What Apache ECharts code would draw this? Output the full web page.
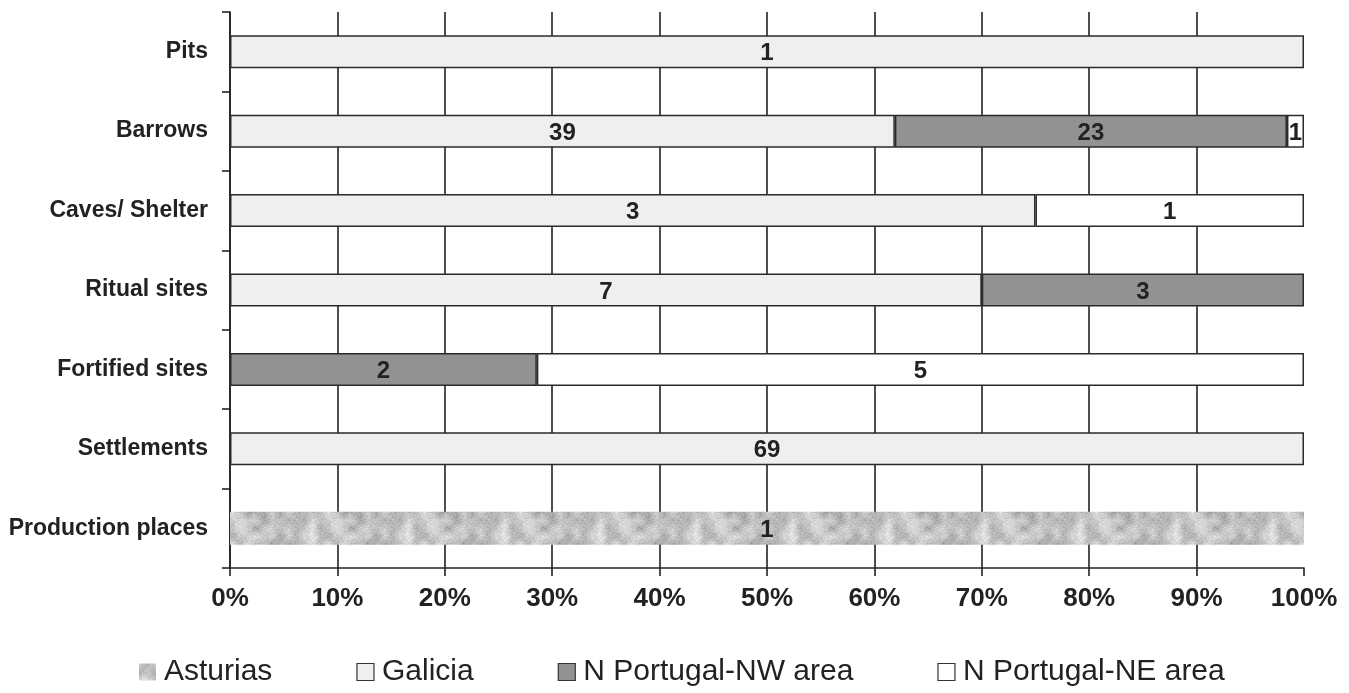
<!DOCTYPE html>
<html>
<head>
<meta charset="utf-8">
<script src="https://cdn.jsdelivr.net/npm/echarts@6/dist/echarts.min.js"></script>
<style>
html,body{margin:0;padding:0;background:#fff;}
#chart{width:1349px;height:693px;}
</style>
</head>
<body>
<div id="chart"></div>
<script>
// ---- data ----
var categories = ['Pits', 'Barrows', 'Caves/ Shelter', 'Ritual sites', 'Fortified sites', 'Settlements', 'Production places'];
var seriesNames = ['Asturias', 'Galicia', 'N Portugal-NW area', 'N Portugal-NE area'];
var asturias = [0, 0, 0, 0, 0, 0, 1];
var galicia  = [1, 39, 3, 7, 0, 69, 0];
var nwArea   = [0, 23, 0, 3, 2, 0, 0];
var neArea   = [0, 1, 1, 0, 5, 0, 0];
var xTickLabels = ['0%', '10%', '20%', '30%', '40%', '50%', '60%', '70%', '80%', '90%', '100%'];

// ---- texture for Asturias (deterministic noise) ----
function makeTexture() {
  var size = 96;
  var c = document.createElement('canvas');
  c.width = size; c.height = size;
  var ctx = c.getContext('2d');
  var seed = 12345;
  function rnd() { seed = (seed * 1103515245 + 12345) & 0x7fffffff; return seed / 0x7fffffff; }
  var g = 12, grid = [];
  for (var i = 0; i <= g; i++) { grid[i] = []; for (var j = 0; j <= g; j++) grid[i][j] = rnd(); }
  for (var i = 0; i < g; i++) grid[i][g] = grid[i][0];
  for (var j = 0; j <= g; j++) grid[g][j] = grid[0][j];
  var img = ctx.createImageData(size, size);
  for (var y = 0; y < size; y++) {
    for (var x = 0; x < size; x++) {
      var gx = x / size * g, gy = y / size * g;
      var ix = Math.floor(gx), iy = Math.floor(gy), fx = gx - ix, fy = gy - iy;
      var v = grid[iy][ix] * (1 - fx) * (1 - fy) + grid[iy][ix + 1] * fx * (1 - fy) +
              grid[iy + 1][ix] * (1 - fx) * fy + grid[iy + 1][ix + 1] * fx * fy;
      v = 0.7 * v + 0.3 * rnd();
      var col = Math.round(145 + v * 100);
      var k = (y * size + x) * 4;
      img.data[k] = col; img.data[k + 1] = col; img.data[k + 2] = col; img.data[k + 3] = 255;
    }
  }
  ctx.putImageData(img, 0, 0);
  return c;
}
var texture = { image: makeTexture(), repeat: 'repeat' };

var counts = [asturias, galicia, nwArea, neArea];
var totals = categories.map(function (_, i) {
  return counts.reduce(function (s, arr) { return s + arr[i]; }, 0);
});
function pct(arr) {
  return arr.map(function (v, i) { return v > 0 ? v / totals[i] * 100 : null; });
}

var fillColors = [texture, '#efeff1', '#929294', '#ffffff'];
var borderColors = ['rgba(0,0,0,0)', '#2a2a2a', '#2a2a2a', '#2a2a2a'];

var FONT = '"Liberation Sans", Arial, Helvetica, sans-serif';

var series = seriesNames.map(function (name, s) {
  return {
    name: name,
    type: 'bar',
    stack: 'total',
    barWidth: 33,
    data: pct(counts[s]),
    itemStyle: { color: fillColors[s], borderColor: borderColors[s], borderWidth: s === 0 ? 0 : 1.5 },
    label: {
      show: true,
      position: 'inside',
      color: '#222',
      fontFamily: FONT,
      fontWeight: 'bold',
      fontSize: 24,
      offset: [0, 2],
      formatter: function (p) { return counts[s][p.dataIndex]; }
    },
    emphasis: { disabled: true },
    animation: false
  };
});

var chart = echarts.init(document.getElementById('chart'), null, { renderer: 'canvas' });
chart.setOption({
  backgroundColor: '#fff',
  animation: false,
  grid: { left: 230, right: 45, top: 12, bottom: 125, containLabel: false },
  legend: {
    left: 134,
    top: 652,
    itemWidth: 17,
    itemHeight: 17,
    itemGap: 84,
    icon: 'rect',
    textStyle: { fontFamily: FONT, fontSize: 30, color: '#222', padding: [0, 0, 0, 3] },
    data: seriesNames.map(function (n, s) {
      return {
        name: n,
        itemStyle: { color: fillColors[s], borderColor: s === 0 ? 'rgba(0,0,0,0)' : '#333', borderWidth: s === 0 ? 0 : 1.2 }
      };
    })
  },
  xAxis: {
    type: 'value',
    min: 0,
    max: 100,
    interval: 10,
    axisLine: { show: true, lineStyle: { color: '#222', width: 1.6 } },
    axisTick: { show: true, length: 8, lineStyle: { color: '#222', width: 1.6 } },
    splitLine: { show: true, showMaxLine: false, lineStyle: { color: '#222', width: 1.6 } },
    axisLabel: {
      margin: 18,
      fontFamily: FONT,
      fontWeight: 'bold',
      fontSize: 26,
      color: '#222',
      formatter: function (v) { return xTickLabels[Math.round(v / 10)]; }
    }
  },
  yAxis: {
    type: 'category',
    inverse: true,
    data: categories,
    axisLine: { show: true, lineStyle: { color: '#222', width: 1.6 } },
    axisTick: { show: true, length: 8, lineStyle: { color: '#222', width: 1.6 } },
    axisLabel: { margin: 22, fontFamily: FONT, fontWeight: 'bold', fontSize: 23, color: '#222' }
  },
  series: series
});
</script>
</body>
</html>
